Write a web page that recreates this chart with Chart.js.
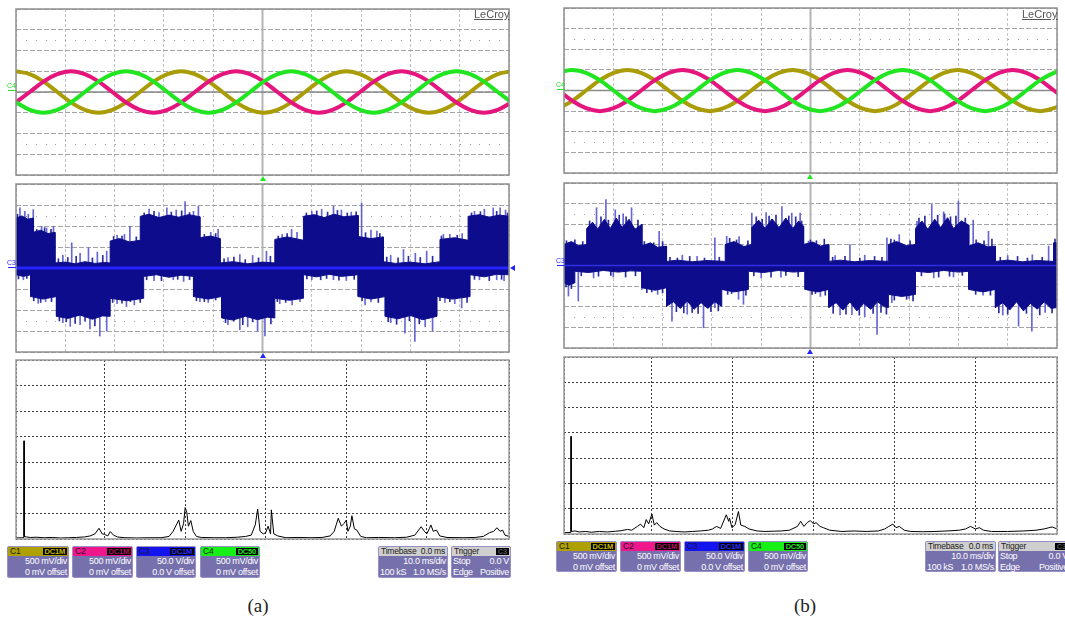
<!DOCTYPE html>
<html>
<head>
<meta charset="utf-8">
<script src="https://cdn.jsdelivr.net/npm/chart.js@4.4.1/dist/chart.umd.min.js"></script>
<style>
  body { margin: 0; background: #fff; }
  #wrap { position: relative; width: 1065px; height: 627px; overflow: hidden; background: #fff;
          font-family: "Liberation Sans", Arial, sans-serif; }
  #wrap canvas { position: absolute; }
  .box { position: absolute; background: #7670ad; border-radius: 3px; box-shadow: inset 0 0 0 1px #9791c6; overflow: hidden; white-space: nowrap; }
  .hd { position: relative; margin: 1px 1px 0 1px; height: 9px; font-size: 8.5px; line-height: 9px; color: #1a1a1a; padding-left: 2px; letter-spacing: -0.2px; }
  .tag { position: absolute; right: 1px; top: 1px; height: 7px; line-height: 7px; font-size: 7.5px; font-weight: bold; background: #000; padding: 0 2px; }
  .row { display: flex; justify-content: space-between; color: #fff; font-size: 9px; line-height: 10.5px; padding: 0 2px; letter-spacing: -0.3px; }
  .tri { position: absolute; width: 0; height: 0; }
  .lbl { position: absolute; font-size: 7px; line-height: 7px; }
  .bar { position: absolute; height: 1px; width: 8px; }
  .cap { position: absolute; width: 60px; text-align: center; font-family: "Liberation Serif", "DejaVu Serif", serif; font-size: 19px; color: #222; }
  .logo { position: absolute; font-size: 11px; color: #555; text-decoration: underline; }
</style>
</head>
<body>
<div id="wrap"></div>
<script>
// ---- (a) phase voltages, 0.5 V/div, time in ms
const tA = [0, 2.79, 5.58, 8.38, 11.17, 13.96, 16.75, 19.54, 22.33, 25.13, 27.92, 30.71, 33.5, 36.29, 39.08, 41.88, 44.67, 47.46, 50.25, 53.04, 55.83, 58.63, 61.42, 64.21, 67, 69.79, 72.58, 75.38, 78.17, 80.96, 83.75, 86.54, 89.33, 92.13, 94.92, 97.71, 100.5];
const c1A = [0.5, 0.43, 0.25, 0, -0.25, -0.43, -0.5, -0.43, -0.25, 0, 0.25, 0.43, 0.5, 0.43, 0.25, 0, -0.25, -0.43, -0.5, -0.43, -0.25, 0, 0.25, 0.43, 0.5, 0.43, 0.25, 0, -0.25, -0.43, -0.5, -0.43, -0.25, 0, 0.25, 0.43, 0.5];
const c2A = [-0.25, 0, 0.25, 0.43, 0.5, 0.43, 0.25, 0, -0.25, -0.43, -0.5, -0.43, -0.25, 0, 0.25, 0.43, 0.5, 0.43, 0.25, 0, -0.25, -0.43, -0.5, -0.43, -0.25, 0, 0.25, 0.43, 0.5, 0.43, 0.25, 0, -0.25, -0.43, -0.5, -0.43, -0.25];
const c4A = [-0.25, -0.43, -0.5, -0.43, -0.25, 0, 0.25, 0.43, 0.5, 0.43, 0.25, 0, -0.25, -0.43, -0.5, -0.43, -0.25, 0, 0.25, 0.43, 0.5, 0.43, 0.25, 0, -0.25, -0.43, -0.5, -0.43, -0.25, 0, 0.25, 0.43, 0.5, 0.43, 0.25, 0, -0.25];

// ---- (b) phase voltages
const tB = [-1.1, 1.69, 4.48, 7.27, 10.06, 12.85, 15.64, 18.44, 21.23, 24.02, 26.81, 29.6, 32.39, 35.18, 37.97, 40.76, 43.56, 46.35, 49.14, 51.93, 54.72, 57.51, 60.3, 63.09, 65.88, 68.68, 71.47, 74.26, 77.05, 79.84, 82.63, 85.42, 88.21, 91.0, 93.8, 96.59, 99.38, 102.17];
const c1B = [-0.43, -0.25, 0, 0.25, 0.43, 0.5, 0.43, 0.25, 0, -0.25, -0.43, -0.5, -0.43, -0.25, 0, 0.25, 0.43, 0.5, 0.43, 0.25, 0, -0.25, -0.43, -0.5, -0.43, -0.25, 0, 0.25, 0.43, 0.5, 0.43, 0.25, 0, -0.25, -0.43, -0.5, -0.43, -0.25];
const c2B = [0, -0.25, -0.43, -0.5, -0.43, -0.25, 0, 0.25, 0.43, 0.5, 0.43, 0.25, 0, -0.25, -0.43, -0.5, -0.43, -0.25, 0, 0.25, 0.43, 0.5, 0.43, 0.25, 0, -0.25, -0.43, -0.5, -0.43, -0.25, 0, 0.25, 0.43, 0.5, 0.43, 0.25, 0, -0.25];
const c4B = [0.43, 0.5, 0.43, 0.25, 0, -0.25, -0.43, -0.5, -0.43, -0.25, 0, 0.25, 0.43, 0.5, 0.43, 0.25, 0, -0.25, -0.43, -0.5, -0.43, -0.25, 0, 0.25, 0.43, 0.5, 0.43, 0.25, 0, -0.25, -0.43, -0.5, -0.43, -0.25, 0, 0.25, 0.43, 0.5];

// ---- (a) line voltage envelope, 50 V/div
const upA_t = [0, 1.2, 2.4, 3.5, 3.5, 5, 6.5, 7.9, 7.9, 10, 12, 14, 16, 18, 19.1, 19.1, 21, 23, 25.2, 25.2, 27, 29, 31, 33, 35, 37.3, 37.3, 39.5, 41.4, 41.4, 44, 47, 50, 52.5, 52.5, 55, 58.3, 58.3, 60.5, 62.5, 64.5, 66.5, 69.4, 69.4, 72, 74.5, 74.5, 77, 80, 83, 86, 86, 89, 91.7, 91.7, 94, 96, 98, 100];
const upA_v = [119, 124, 116, 119, 85, 90, 82, 85, 12, 14, 10, 15, 11, 13, 12, 64, 70, 62, 66, 123, 128, 120, 126, 121, 127, 122, 72, 76, 70, 12, 15, 10, 14, 12, 68, 74, 66, 123, 127, 120, 128, 122, 125, 75, 70, 74, 15, 11, 14, 10, 15, 68, 72, 66, 123, 127, 121, 126, 123];
const loA_t = [0, 1.5, 3, 3, 5.5, 8.2, 8.2, 10.5, 13, 15.5, 17.5, 19.1, 19.1, 22.5, 25.9, 25.9, 28.5, 31, 33.5, 36, 36, 39, 41.7, 41.7, 44, 46.5, 49, 51, 52.5, 52.5, 55.5, 58.3, 58.3, 61, 63.5, 66, 69.4, 69.4, 72, 74.9, 74.9, 77.5, 80, 82.5, 85.4, 85.4, 88.5, 92.1, 92.1, 95, 97.5, 100];
const loA_v = [-16, -20, -16, -68, -74, -68, -115, -120, -112, -122, -114, -115, -72, -78, -72, -20, -16, -22, -17, -20, -68, -74, -68, -119, -124, -115, -123, -117, -119, -72, -77, -72, -16, -21, -15, -20, -16, -68, -74, -68, -115, -121, -113, -123, -115, -68, -74, -68, -16, -21, -15, -16];
// tall switching spikes
const spkA_t = [0.8, 1.8, 2.5, 3.5, 5.2, 6.2, 7.6, 9.5, 11.3, 13, 14.7, 16.5, 18.4, 20.5, 22, 23.1, 27, 29, 30.6, 32.5, 34.3, 36, 37, 39.5, 41, 43, 45.4, 48, 50.8, 54, 55.9, 57, 60, 62, 64.4, 66, 68, 70.1, 72, 73.2, 76, 78.6, 81, 83.3, 86.7, 88, 90.5, 93, 95, 96.8, 98.2, 99.3,
                1.5, 4.5, 6, 9.5, 11, 13, 15, 17, 18.4, 20.5, 22.4, 24, 28, 31.9, 34, 37.3, 39, 43, 45.4, 47, 49, 50.5, 53.5, 56, 57.6, 60, 64.4, 67, 70.8, 72, 76, 78.9, 80.9, 83, 84.5, 87, 89, 90.4, 94, 97.5, 99];
const spkA_v = [143, 135, 128, 139, 99, 95, 99, 30, 60, 35, 48, 38, 40, 78, 80, 99, 140, 132, 143, 138, 158, 135, 147, 85, 92, 25, 32, 30, 40, 80, 92, 85, 135, 140, 147, 138, 133, 155, 90, 88, 30, 44, 35, 40, 80, 80, 82, 135, 140, 143, 143, 138,
                -28, -84, -80, -130, -139, -135, -145, -162, -150, -85, -92, -88, -30, -28, -32, -80, -82, -135, -147, -140, -150, -162, -85, -88, -80, -28, -28, -30, -88, -80, -130, -155, -175, -140, -150, -82, -85, -95, -28, -28, -30];
// short hair along the envelope edges
const hairA_t = [0.3, 4.2, 5.8, 7.1, 8.6, 10.5, 12.2, 15.5, 17.6, 19.8, 21.5, 24.4, 26, 28, 31.5, 33.6, 35.2, 38.2, 40.5, 42.2, 44.2, 46.5, 49.2, 51.6, 53.2, 55, 58.9, 61, 63.2, 65.2, 67.2, 69, 70.9, 73.8, 75.2, 77.5, 79.6, 82, 84.5, 86.3, 89.5, 92.4, 94.2, 97.5, 99.7,
                 0.5, 2.2, 3.6, 5, 7.2, 8.8, 10.2, 12, 14, 16, 19.6, 21.5, 23.2, 25.2, 26.5, 29.5, 32.8, 35.2, 36.6, 38.2, 40.5, 42.5, 44.2, 46, 48, 51.7, 53, 54.7, 59, 61.8, 63, 65.5, 68.6, 70.2, 73.5, 75.5, 77.2, 79.8, 81.8, 86, 88, 91.5, 93, 96, 98.5];
const hairA_v = [128, 92, 96, 92, 22, 25, 28, 24, 30, 75, 76, 74, 131, 135, 133, 136, 132, 80, 82, 22, 26, 20, 24, 28, 76, 82, 131, 136, 133, 137, 131, 134, 84, 82, 26, 24, 28, 25, 28, 76, 78, 131, 134, 135, 131,
                 -26, -25, -78, -82, -80, -126, -128, -132, -126, -138, -82, -84, -80, -82, -28, -30, -27, -28, -78, -80, -76, -130, -126, -135, -128, -133, -80, -82, -26, -28, -25, -29, -27, -78, -82, -128, -134, -126, -133, -78, -80, -82, -27, -30, -27];
const midA_t = [0, 100];
const midA_v = [0, 0];

// ---- (b) line voltage envelope
const upB_t = [0, 1.5, 3, 4.6, 4.6, 5.8, 6.8, 8.2, 9.4, 10.6, 11.8, 13.2, 14.4, 15.8, 15.8, 17.5, 19, 20.8, 20.8, 23, 26, 29, 32.7, 32.7, 34.5, 36.5, 38.1, 38.1, 39.5, 40.8, 42.2, 43.6, 45, 46.4, 47.6, 48.6, 48.6, 50.5, 52, 53.7, 53.7, 56, 59, 62, 65.8, 65.8, 67.5, 69.5, 71.3, 71.3, 72.6, 73.8, 75.2, 76.4, 77.8, 79, 80.6, 82.1, 82.1, 84, 86, 87.5, 87.5, 90, 93, 96, 99.3, 99.3, 100];
const upB_v = [51, 58, 48, 51, 90, 105, 88, 112, 90, 115, 92, 112, 88, 100, 47, 55, 44, 47, 10, 13, 9, 12, 10, 51, 58, 46, 51, 92, 110, 90, 113, 92, 115, 90, 108, 95, 51, 57, 47, 51, 10, 13, 9, 12, 10, 51, 58, 48, 51, 90, 108, 88, 112, 92, 116, 90, 108, 98, 47, 55, 45, 47, 10, 13, 9, 12, 10, 55, 55];
const loB_t = [0, 1, 2.2, 2.2, 5, 8, 11, 13.5, 15.8, 15.8, 18.5, 20.8, 20.8, 22.2, 23.6, 25, 26.4, 27.8, 29.2, 30.6, 32, 32, 34.5, 37.4, 37.4, 40.5, 43.5, 46.5, 48.9, 48.9, 51.5, 53.7, 53.7, 55.2, 56.6, 58, 59.4, 60.8, 62.2, 63.6, 65, 65.8, 65.8, 68.5, 71.3, 71.3, 74, 77, 80, 82.1, 82.1, 85, 87.5, 87.5, 89, 90.4, 91.8, 93.2, 94.6, 96, 97.4, 98.8, 100];
const loB_v = [-42, -48, -42, -14, -17, -12, -16, -13, -14, -54, -60, -54, -99, -88, -104, -86, -106, -90, -104, -88, -99, -58, -64, -58, -14, -17, -12, -16, -14, -58, -64, -58, -102, -90, -108, -88, -110, -92, -106, -88, -100, -102, -70, -75, -70, -14, -17, -12, -16, -14, -58, -64, -58, -102, -90, -108, -88, -110, -92, -106, -88, -104, -102];
const spkB_t = [6.6, 8.5, 10.4, 12, 13.7, 19.3, 24, 27, 30.6, 33, 35.5, 38.1, 41, 44.2, 46.2, 47.9, 49.6, 55, 58, 61, 65.5, 68, 71.6, 74.6, 77, 80, 83, 86.1, 90, 95, 98.3,
                0.9, 2.9, 6, 10, 15.8, 19, 21.9, 25, 28.3, 30.6, 35.4, 36.4, 40, 44, 49.6, 52, 56, 58.4, 61, 63.5, 66.5, 68.5, 70, 75, 79, 82.4, 85, 89, 92.2, 94.9, 97.6];
const spkB_v = [140, 160, 135, 125, 140, 83, 25, 22, 67, 71, 70, 127, 128, 143, 127, 127, 59, 24, 51, 25, 67, 75, 107, 148, 130, 156, 110, 83, 24, 26, 47,
                -74, -86, -30, -28, -58, -70, -135, -118, -151, -102, -82, -94, -30, -28, -58, -75, -120, -119, -125, -167, -90, -74, -80, -30, -28, -58, -72, -120, -147, -159, -114];
const hairB_t = [0.5, 2.2, 3.8, 5.2, 7.5, 9, 11.2, 12.6, 15, 16.3, 18.2, 20, 21.5, 23, 25.5, 28.5, 31.5, 33.6, 35, 37.3, 39, 40.2, 41.6, 43, 45.6, 47, 48.2, 50, 51.2, 52.8, 54.5, 57, 60, 63, 64.5, 66.3, 67, 70.2, 72, 73.2, 75.8, 77.2, 78.4, 79.5, 81.4, 83.6, 85.2, 86.8, 88.5, 92, 94, 97, 99.6,
                 0.4, 1.5, 3.5, 7, 9.5, 12.5, 14.5, 16.8, 17.8, 20, 22.8, 24.3, 26, 27.2, 29.8, 31.3, 33.2, 34, 36.9, 38.5, 42, 45, 47.5, 50.3, 51, 53, 54.6, 57.2, 59.9, 62.7, 64.3, 65.4, 67, 69.5, 70.8, 72.5, 76, 78.2, 80.8, 83.5, 86.5, 88.2, 90, 93.8, 96.5, 99];
const hairB_v = [60, 62, 58, 108, 118, 110, 122, 118, 110, 58, 55, 58, 20, 18, 22, 18, 20, 66, 62, 60, 118, 112, 120, 122, 120, 118, 108, 62, 60, 64, 20, 22, 18, 22, 20, 64, 62, 60, 115, 120, 122, 125, 118, 120, 115, 62, 60, 64, 20, 22, 18, 20, 64,
                 -52, -56, -25, -26, -24, -28, -25, -66, -64, -66, -112, -115, -114, -116, -112, -110, -70, -68, -72, -25, -28, -24, -27, -70, -68, -72, -116, -118, -120, -116, -114, -118, -84, -82, -86, -25, -28, -26, -24, -70, -72, -115, -118, -116, -120, -115];
const midB_t = [0, 100];
const midB_v = [0, 0];

// ---- spectra (x in divisions, magnitude in divisions)
const specA_f = [-0.1, -0.03, -0.002, 0, 0.002, 0.03, 0.08, 0.15, 0.25, 0.35, 0.45, 0.55, 0.65, 0.75, 0.82, 0.88, 0.93, 0.97, 1.0, 1.04, 1.07, 1.11, 1.16, 1.25, 1.4, 1.55, 1.7, 1.8, 1.85, 1.89, 1.92, 1.95, 1.98, 2.0, 2.02, 2.04, 2.07, 2.1, 2.14, 2.2, 2.35, 2.5, 2.65, 2.75, 2.82, 2.87, 2.9, 2.93, 2.97, 3.0, 3.03, 3.06, 3.07, 3.1, 3.15, 3.25, 3.4, 3.55, 3.7, 3.8, 3.85, 3.9, 3.94, 3.97, 4.0, 4.02, 4.05, 4.07, 4.1, 4.13, 4.18, 4.25, 4.4, 4.6, 4.75, 4.85, 4.93, 4.97, 5.0, 5.03, 5.05, 5.08, 5.12, 5.16, 5.25, 5.45, 5.6, 5.7, 5.78, 5.83, 5.87, 5.91, 5.94, 5.97, 6.02];
const specA_m = [0.04, 0.05, 0.05, 3.84, 0.1, 0.08, 0.06, 0.07, 0.05, 0.06, 0.04, 0.05, 0.06, 0.08, 0.12, 0.2, 0.42, 0.2, 0.18, 0.12, 0.29, 0.15, 0.08, 0.05, 0.04, 0.05, 0.05, 0.1, 0.3, 0.55, 0.74, 0.3, 0.6, 1.23, 1.05, 0.5, 0.72, 0.3, 0.1, 0.06, 0.05, 0.05, 0.07, 0.1, 0.15, 0.55, 1.17, 0.3, 0.2, 0.25, 0.5, 0.2, 1.14, 0.2, 0.12, 0.05, 0.06, 0.05, 0.06, 0.12, 0.3, 0.81, 0.5, 0.6, 0.74, 0.3, 0.5, 0.91, 0.4, 0.35, 0.1, 0.05, 0.06, 0.05, 0.07, 0.15, 0.48, 0.3, 0.2, 0.4, 0.55, 0.3, 0.35, 0.12, 0.06, 0.05, 0.06, 0.1, 0.25, 0.3, 0.44, 0.3, 0.35, 0.15, 0.1];
const specB_f = [-0.087, -0.003, 0, 0.003, 0.05, 0.1, 0.18, 0.25, 0.35, 0.45, 0.55, 0.62, 0.7, 0.75, 0.82, 0.86, 0.9, 0.93, 0.96, 1.0, 1.03, 1.06, 1.1, 1.15, 1.22, 1.3, 1.4, 1.5, 1.6, 1.7, 1.75, 1.8, 1.85, 1.92, 1.95, 1.96, 1.99, 2.03, 2.07, 2.1, 2.15, 2.2, 2.3, 2.4, 2.5, 2.6, 2.7, 2.8, 2.84, 2.88, 2.92, 2.96, 3.0, 3.03, 3.08, 3.12, 3.2, 3.35, 3.5, 3.65, 3.8, 3.88, 3.93, 3.98, 4.02, 4.06, 4.12, 4.2, 4.35, 4.5, 4.65, 4.8, 4.88, 4.94, 5.0, 5.05, 5.1, 5.2, 5.4, 5.6, 5.75, 5.85, 5.9, 5.95, 6.01];
const specB_m = [0.05, 0.06, 3.86, 0.1, 0.12, 0.08, 0.1, 0.07, 0.1, 0.08, 0.11, 0.13, 0.18, 0.15, 0.3, 0.39, 0.25, 0.57, 0.4, 0.79, 0.35, 0.45, 0.3, 0.2, 0.12, 0.1, 0.08, 0.1, 0.12, 0.15, 0.2, 0.3, 0.22, 0.76, 0.5, 0.63, 0.25, 0.37, 0.89, 0.35, 0.3, 0.2, 0.12, 0.1, 0.11, 0.12, 0.15, 0.3, 0.5, 0.3, 0.45, 0.53, 0.4, 0.45, 0.3, 0.25, 0.15, 0.1, 0.12, 0.1, 0.12, 0.2, 0.3, 0.39, 0.25, 0.3, 0.15, 0.1, 0.09, 0.1, 0.12, 0.15, 0.2, 0.3, 0.2, 0.25, 0.15, 0.1, 0.1, 0.12, 0.15, 0.2, 0.24, 0.28, 0.2];

const OLIVE = '#a99c06', PINK = '#e4167d', GREEN = '#22e522', NAVY = '#0c0c8c', BLUE = '#2424ff';

const wrap = document.getElementById('wrap');
const pts = (xs, ys) => xs.map((x, i) => ({ x, y: ys[i] }));

// draws the scope crosshair, the dotted rows and the frame
const decorPlugin = {
  id: 'decor',
  beforeDatasetsDraw(chart, args, o) {
    const { ctx, chartArea: a, scales: { x, y } } = chart;
    ctx.save();
    if (o.dots) {
      ctx.fillStyle = '#a0a0a0';
      o.dots.forEach(v => {
        const py = Math.round(y.getPixelForValue(v));
        for (let t = x.min + o.dotStep; t < x.max; t += o.dotStep) {
          ctx.fillRect(Math.round(x.getPixelForValue(t)), py, 1, 1);
        }
      });
    }
    if (o.cross) {
      const cx = x.getPixelForValue((x.min + x.max) / 2);
      const cy = y.getPixelForValue(0);
      ctx.strokeStyle = '#b4b4b4';
      ctx.lineWidth = 2;
      ctx.beginPath(); ctx.moveTo(cx, a.top); ctx.lineTo(cx, a.bottom); ctx.stroke();
      ctx.strokeStyle = '#8a8a8a';
      ctx.lineWidth = 1.5;
      ctx.beginPath(); ctx.moveTo(a.left, cy); ctx.lineTo(a.right, cy); ctx.stroke();
    }
    ctx.restore();
  },
  afterDraw(chart, args, o) {
    const { ctx, chartArea: a } = chart;
    ctx.save();
    ctx.strokeStyle = o.frame;
    ctx.lineWidth = 1.5;
    ctx.strokeRect(a.left, a.top, a.right - a.left, a.bottom - a.top);
    ctx.restore();
  }
};

function addCanvas(box) {
  const [l, t, r, b] = box;
  const c = document.createElement('canvas');
  c.width = r - l + 4;
  c.height = b - t + 4;
  c.style.left = (l - 2) + 'px';
  c.style.top = (t - 2) + 'px';
  wrap.appendChild(c);
  return c;
}

function axis(s) {
  return {
    type: 'linear', min: s.min, max: s.max, offset: false,
    ticks: { display: false, stepSize: s.step },
    grid: { color: s.color, drawTicks: false, tickLength: 0, offset: false },
    border: { display: false, dash: s.dash }
  };
}

function makeChart(box, datasets, sx, sy, decor) {
  return new Chart(addCanvas(box), {
    type: 'line',
    data: { datasets },
    options: {
      responsive: false,
      animation: false,
      devicePixelRatio: 1,
      layout: { padding: 2 },
      elements: { point: { radius: 0 } },
      plugins: { legend: { display: false }, tooltip: { enabled: false }, decor },
      scales: { x: axis(sx), y: axis(sy) }
    },
    plugins: [decorPlugin]
  });
}

const sine = (xs, ys, color) => ({ data: pts(xs, ys), borderColor: color, borderWidth: 4, tension: 0.4, fill: false });
const band = (xs, ys) => ({ data: pts(xs, ys), borderColor: NAVY, backgroundColor: NAVY, borderWidth: 1, fill: 'origin', tension: 0, order: 1 });
const spikes = (xs, ys, color) => ({ type: 'bar', data: pts(xs, ys), backgroundColor: color, barThickness: 1, grouped: false, order: 2 });
const spec = (xs, ys) => ({ data: pts(xs, ys), borderColor: '#000', borderWidth: 1, tension: 0, fill: false });

const timeAxis = { min: 0, max: 100, step: 10, color: '#c2c2c2', dash: [3, 2] };
const voltAxis = { min: -2, max: 2, step: 0.5, color: '#a4a4a4', dash: [5, 2] };
const lineAxis = { min: -200, max: 200, step: 50, color: '#a4a4a4', dash: [5, 2] };
const magAxis = { min: 0, max: 7, step: 1, color: '#3c3c3c', dash: [2, 2] };

// (a)
makeChart([16, 9, 509, 175],
  [sine(tA, c4A, GREEN), sine(tA, c2A, PINK), sine(tA, c1A, OLIVE)],
  timeAxis, voltAxis, { cross: true, dots: [1.25, -1.25], dotStep: 2, frame: '#8f8f8f' });
makeChart([16, 184, 509, 352],
  [{ data: pts(midA_t, midA_v), borderColor: BLUE, borderWidth: 3, order: 0 },
   band(upA_t, upA_v), band(loA_t, loA_v),
   spikes(spkA_t, spkA_v, 'rgba(75,75,205,0.85)'), spikes(hairA_t, hairA_v, 'rgba(20,20,150,0.9)')],
  timeAxis, lineAxis, { cross: true, dots: [125, -125], dotStep: 2, frame: '#8f8f8f' });
makeChart([16, 360, 509, 539], [spec(specA_f, specA_m)],
  { min: -0.1, max: 6.02, step: 1, color: '#3c3c3c', dash: [2, 2] }, magAxis, { frame: '#9a9a9a' });

// (b)
makeChart([564, 8, 1057, 173],
  [sine(tB, c4B, GREEN), sine(tB, c2B, PINK), sine(tB, c1B, OLIVE)],
  timeAxis, voltAxis, { cross: true, dots: [1.25, -1.25], dotStep: 2, frame: '#8f8f8f' });
makeChart([564, 183, 1057, 348],
  [{ data: pts(midB_t, midB_v), borderColor: 'rgba(50,50,235,0.9)', borderWidth: 1.5, order: 0 },
   band(upB_t, upB_v), band(loB_t, loB_v),
   spikes(spkB_t, spkB_v, 'rgba(75,75,205,0.85)'), spikes(hairB_t, hairB_v, 'rgba(20,20,150,0.9)')],
  timeAxis, lineAxis, { cross: true, dots: [125, -125], dotStep: 2, frame: '#8f8f8f' });
makeChart([564, 357, 1057, 534], [spec(specB_f, specB_m)],
  { min: -0.087, max: 6.01, step: 1, color: '#3c3c3c', dash: [2, 2] }, magAxis, { frame: '#9a9a9a' });

// ---- scope decorations (markers, labels, info boxes)
function el(cls, css, html) {
  const d = document.createElement('div');
  d.className = cls;
  Object.assign(d.style, css);
  if (html) d.innerHTML = html;
  wrap.appendChild(d);
  return d;
}
function triUp(x, y, color) {
  el('tri', { left: (x - 3) + 'px', top: y + 'px', borderLeft: '3px solid transparent', borderRight: '3px solid transparent', borderBottom: '5px solid ' + color });
}
function chanLabel(x, y, text, color) {
  el('lbl', { left: x + 'px', top: y + 'px', color }, text);
  el('bar', { left: (x + 1) + 'px', top: (y + 8) + 'px', background: color });
}

triUp(263, 176, GREEN); triUp(263, 353, BLUE);
triUp(810, 174, GREEN); triUp(810, 349, BLUE);
el('tri', { left: '510px', top: '265px', borderTop: '3px solid transparent', borderBottom: '3px solid transparent', borderRight: '5px solid ' + BLUE });
chanLabel(7, 82, 'C4', GREEN); chanLabel(7, 259, 'C3', BLUE);
chanLabel(556, 81, 'C4', GREEN); chanLabel(556, 257, 'C3', BLUE);
el('logo', { left: '474px', top: '8px' }, 'LeCroy');
el('logo', { left: '1022px', top: '8px' }, 'LeCroy');
el('cap', { left: '228px', top: '595px' }, '(a)');
el('cap', { left: '775px', top: '595px' }, '(b)');

function infoBox(x, y, w, h, s) {
  let html = `<div class="hd" style="background:${s.head}">${s.name}`;
  if (s.tag) html += `<span class="tag" style="color:${s.tagColor}">${s.tag}</span>`;
  if (s.right) html += `<span style="position:absolute;right:2px;top:0">${s.right}</span>`;
  html += '</div>';
  s.rows.forEach(r => { html += `<div class="row"><span>${r[0]}</span><span>${r[1]}</span></div>`; });
  el('box', { left: x + 'px', top: y + 'px', width: w + 'px', height: h + 'px' }, html);
}

const chanBoxes = [
  { name: 'C1', head: '#ada000', tag: 'DC1M', tagColor: '#c8b800', rows: [['', '500 mV/div'], ['', '0 mV offset']] },
  { name: 'C2', head: '#f0168c', tag: 'DC1M', tagColor: '#b0105f', rows: [['', '500 mV/div'], ['', '0 mV offset']] },
  { name: 'C3', head: '#1414f0', tag: 'DC1M', tagColor: '#2a2aff', rows: [['', '50.0 V/div'], ['', '0.0 V offset']] },
  { name: 'C4', head: '#16f016', tag: 'DC50', tagColor: '#22e522', rows: [['', '500 mV/div'], ['', '0 mV offset']] }
];
const tbBox = { name: 'Timebase', head: '#cfcfcf', right: '0.0 ms', rows: [['', '10.0 ms/div'], ['100 kS', '1.0 MS/s']] };
const trBox = { name: 'Trigger', head: '#cfcfcf', tag: 'C3', tagColor: '#555', rows: [['Stop', '0.0 V'], ['Edge', 'Positive']] };

[[7, 62], [72, 61], [136, 60], [200, 60]].forEach((p, i) => infoBox(p[0], 546, p[1], 32, chanBoxes[i]));
infoBox(378, 546, 70, 32, tbBox);
infoBox(451, 546, 60, 32, trBox);
[[556, 61], [620, 61], [684, 61], [748, 60]].forEach((p, i) => infoBox(p[0], 541, p[1], 31, chanBoxes[i]));
infoBox(925, 541, 71, 31, tbBox);
infoBox(998, 541, 72, 31, trBox);
</script>
</body>
</html>
